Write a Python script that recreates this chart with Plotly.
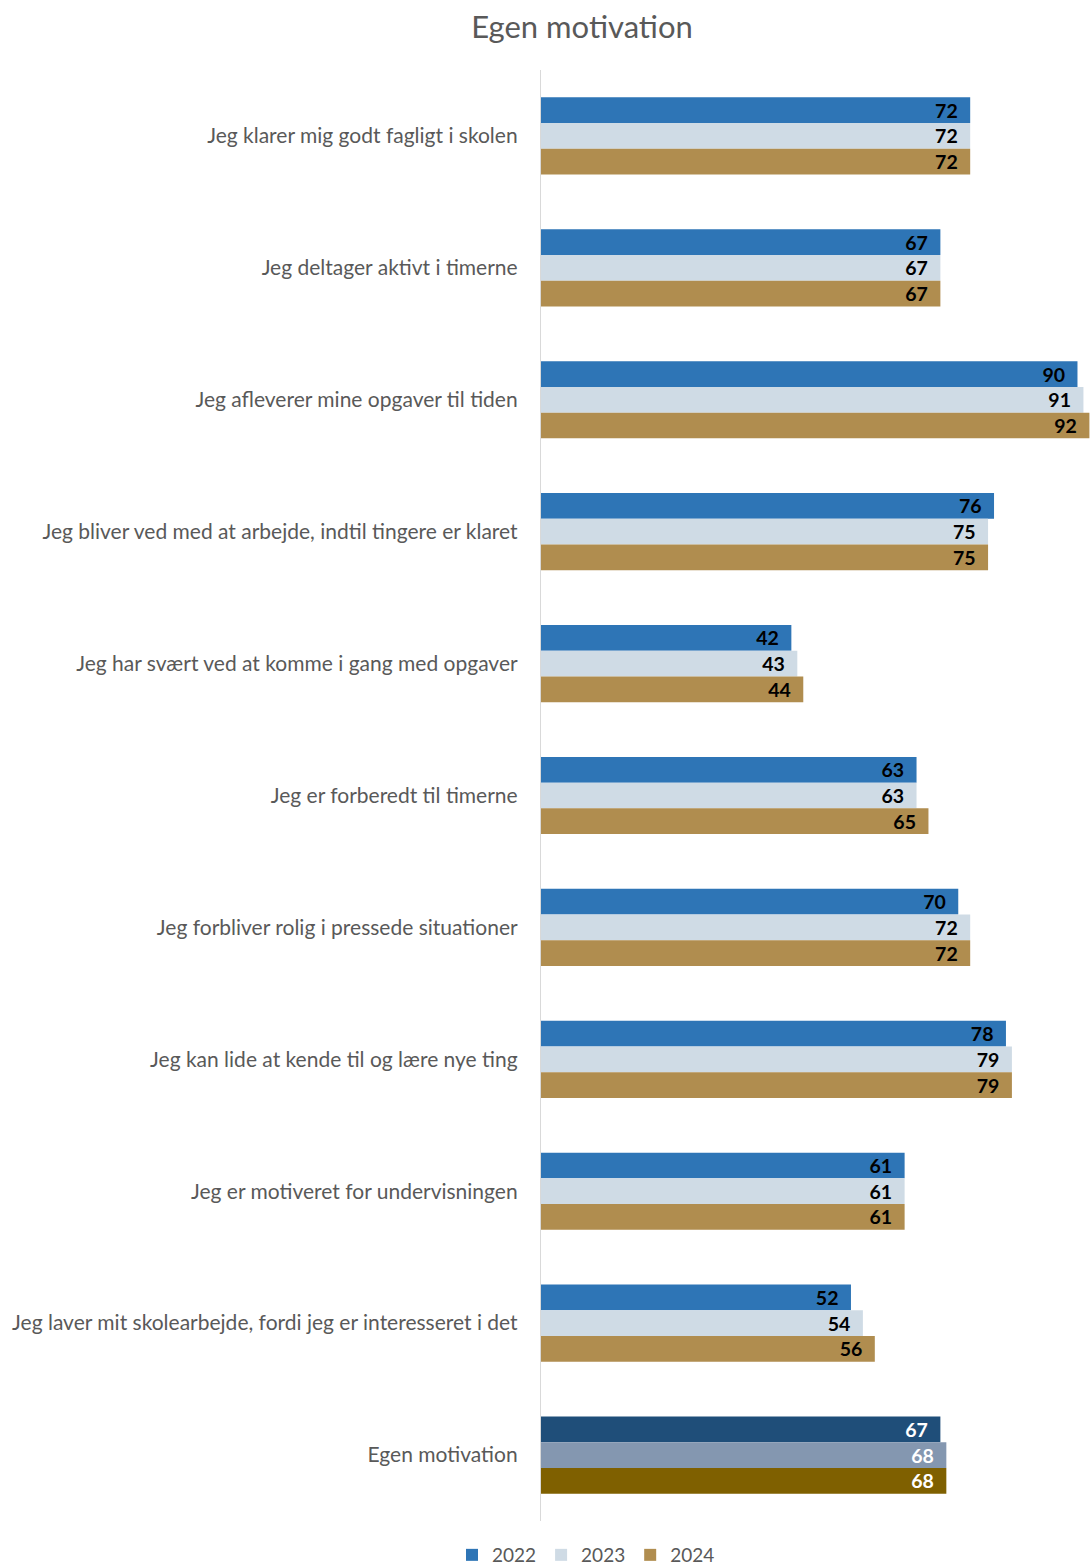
import plotly.graph_objects as go

categories = [
    "Jeg klarer mig godt fagligt i skolen",
    "Jeg deltager aktivt i timerne",
    "Jeg afleverer mine opgaver til tiden",
    "Jeg bliver ved med at arbejde, indtil tingere er klaret",
    "Jeg har svært ved at komme i gang med opgaver",
    "Jeg er forberedt til timerne",
    "Jeg forbliver rolig i pressede situationer",
    "Jeg kan lide at kende til og lære nye ting",
    "Jeg er motiveret for undervisningen",
    "Jeg laver mit skolearbejde, fordi jeg er interesseret i det",
    "Egen motivation",
]
v2022 = [72, 67, 90, 76, 42, 63, 70, 78, 61, 52, 67]
v2023 = [72, 67, 91, 75, 43, 63, 72, 79, 61, 54, 68]
v2024 = [72, 67, 92, 75, 44, 65, 72, 79, 61, 56, 68]
years = ["2022", "2023", "2024"]

base_colors = ["#2E75B6", "#CFDBE5", "#B08D4F"]
total_colors = ["#1F4E79", "#8497B0", "#7F6000"]

font = "Lato"
fig = go.Figure()
for name, vals, c, tc in zip(years, [v2022, v2023, v2024], base_colors, total_colors):
    n = len(vals)
    colors = [c] * (n - 1) + [tc]
    tcolors = ["#000000"] * (n - 1) + ["#FFFFFF"]
    fig.add_trace(go.Bar(
        name=name, y=categories, x=vals, orientation="h",
        marker=dict(color=colors, line=dict(width=0)),
        texttemplate="%{x}\u00a0\u00a0", textposition="inside",
        insidetextanchor="end",
        textfont=dict(family=font, size=19.5, color=tcolors, weight="bold"),
    ))

fig.update_layout(
    width=1090, height=1568,
    margin=dict(l=541, r=0, t=70, b=47),
    paper_bgcolor="white", plot_bgcolor="white",
    barmode="group", bargap=0.415, bargroupgap=0,
    title=dict(text="Egen motivation", xref="container", x=582 / 1090, xanchor="center",
               yref="container", y=1 - 27 / 1568, yanchor="middle",
               font=dict(family=font, size=31, color="#595959")),
    xaxis=dict(range=[0, 92.1], visible=False, fixedrange=True),
    yaxis=dict(autorange="reversed", showline=True, linecolor="#D9D9D9", linewidth=1.3,
               ticks="", ticklabelstandoff=18, showgrid=False,
               tickfont=dict(family=font, size=21, color="#595959")),
    legend=dict(orientation="h", xref="container", x=586 / 1090, xanchor="center",
                yref="container", y=1 - 1555 / 1568, yanchor="middle",
                font=dict(family=font, size=19, color="#595959"),
                itemwidth=30, tracegroupgap=0),
    showlegend=True,
    uniformtext=dict(minsize=19, mode="show"),
)
fig.write_html("out.html", config={"displayModeBar": False},
               post_script="document.body.style.margin='0';document.body.style.overflow='hidden';")
